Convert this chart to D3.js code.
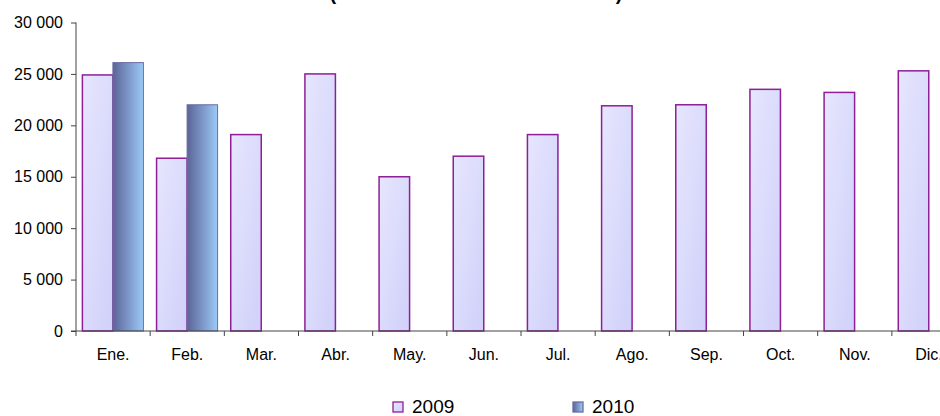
<!DOCTYPE html>
<html>
<head>
<meta charset="utf-8">
<script src="https://cdn.jsdelivr.net/npm/d3@7"></script>
<style>
html,body{margin:0;padding:0;background:#fff;}
svg{display:block;font-family:"Liberation Sans",Arial,sans-serif;}
</style>
</head>
<body>
<svg id="chart" width="940" height="416"></svg>
<script>
const months = ["Ene.","Feb.","Mar.","Abr.","May.","Jun.","Jul.","Ago.","Sep.","Oct.","Nov.","Dic."];
const seriesNames = ["2009","2010"];
const values2009 = [24900,16800,19100,25000,15000,17000,19100,21900,22000,23500,23200,25300];
const values2010 = [26100,22000,null,null,null,null,null,null,null,null,null,null];
const yTicks = [0,5000,10000,15000,20000,25000,30000];
const titleText = "(En toneladas métricas)";

const svg = d3.select("#chart");
const defs = svg.append("defs");
const g1 = defs.append("linearGradient").attr("id","g2009").attr("x1","0").attr("y1","0").attr("x2","1").attr("y2","1");
g1.append("stop").attr("offset","0").attr("stop-color","#E6E6FE");
g1.append("stop").attr("offset","1").attr("stop-color","#D0D0FA");
const g2 = defs.append("linearGradient").attr("id","g2010").attr("x1","0").attr("y1","0").attr("x2","1").attr("y2","0");
g2.append("stop").attr("offset","0").attr("stop-color","#5C6496");
g2.append("stop").attr("offset","0.5").attr("stop-color","#7C96C8");
g2.append("stop").attr("offset","1").attr("stop-color","#9CCAF6");

const x0 = 76, yZero = 331, yTop = 22.5;
const x = d3.scaleBand().domain(months).range([x0, x0 + 12*74.17]).paddingInner(0).paddingOuter(0);
const xs = d3.scaleBand().domain(seriesNames).range([6.4, 67.4]).padding(0);
const y = d3.scaleLinear().domain([0,30000]).range([yZero, yTop]);
const font = "'Liberation Sans',Arial,sans-serif";

// title (cut off at top, as in the reference)
svg.append("text").attr("x",476).attr("y",0).attr("text-anchor","middle")
  .attr("font-size",20).attr("font-weight","bold").attr("fill","#000")
  .attr("textLength",293).attr("lengthAdjust","spacing").text(titleText);

// bars
const data = [];
months.forEach((m,i)=>{
  if (values2009[i]!=null) data.push({m, s:"2009", v:values2009[i]});
  if (values2010[i]!=null) data.push({m, s:"2010", v:values2010[i]});
});
svg.append("g").selectAll("rect").data(data).join("rect")
  .attr("x", d => x(d.m) + xs(d.s))
  .attr("width", xs.bandwidth())
  .attr("y", d => y(d.v))
  .attr("height", d => yZero - y(d.v))
  .attr("fill", d => d.s==="2009" ? "url(#g2009)" : "url(#g2010)")
  .attr("stroke", d => d.s==="2009" ? "#8E1F98" : "#6A6EA2")
  .attr("stroke-width", d => d.s==="2009" ? 1.5 : 1);

// y axis
const yAxis = d3.axisLeft(y).tickValues(yTicks).tickSize(5).tickPadding(8)
  .tickFormat(d => d3.format(",")(d).replace(/,/g," "));
const ya = svg.append("g").attr("transform",`translate(${x0},0)`).call(yAxis);
ya.select(".domain").attr("stroke","#444").attr("d",`M-0,${yTop}V${yZero}`);
ya.selectAll(".tick line").attr("stroke","#444");
ya.selectAll(".tick text").attr("font-size",16).attr("fill","#000").attr("font-family",font);

// x axis
const xAxis = d3.axisBottom(x).tickSize(0).tickPadding(18);
const xa = svg.append("g").attr("transform",`translate(0,${yZero})`).call(xAxis);
xa.select(".domain").attr("stroke","#444").attr("d",`M${x0-5},0H${x0+12*74.17}`);
xa.selectAll(".tick text").attr("font-size",16).attr("fill","#000").attr("font-family",font);
// category boundary ticks
const bounds = d3.range(0,13).map(i => x0 + i*x.step());
xa.append("g").selectAll("line").data(bounds).join("line")
  .attr("x1",d=>d).attr("x2",d=>d).attr("y1",0).attr("y2",5).attr("stroke","#444");

// legend
const legend = [{name:"2009", fill:"url(#g2009)", stroke:"#8E1F98", x:393},
                {name:"2010", fill:"url(#g2010)", stroke:"#6A6EA2", x:573}];
const lg = svg.append("g").selectAll("g").data(legend).join("g")
  .attr("transform", d => `translate(${d.x},402)`);
lg.append("rect").attr("width",10).attr("height",10)
  .attr("fill",d=>d.fill).attr("stroke",d=>d.stroke).attr("stroke-width",1.3);
lg.append("text").attr("x",19).attr("y",11.3).attr("font-size",19).attr("fill","#000")
  .attr("font-family",font).text(d=>d.name);
</script>
</body>
</html>
